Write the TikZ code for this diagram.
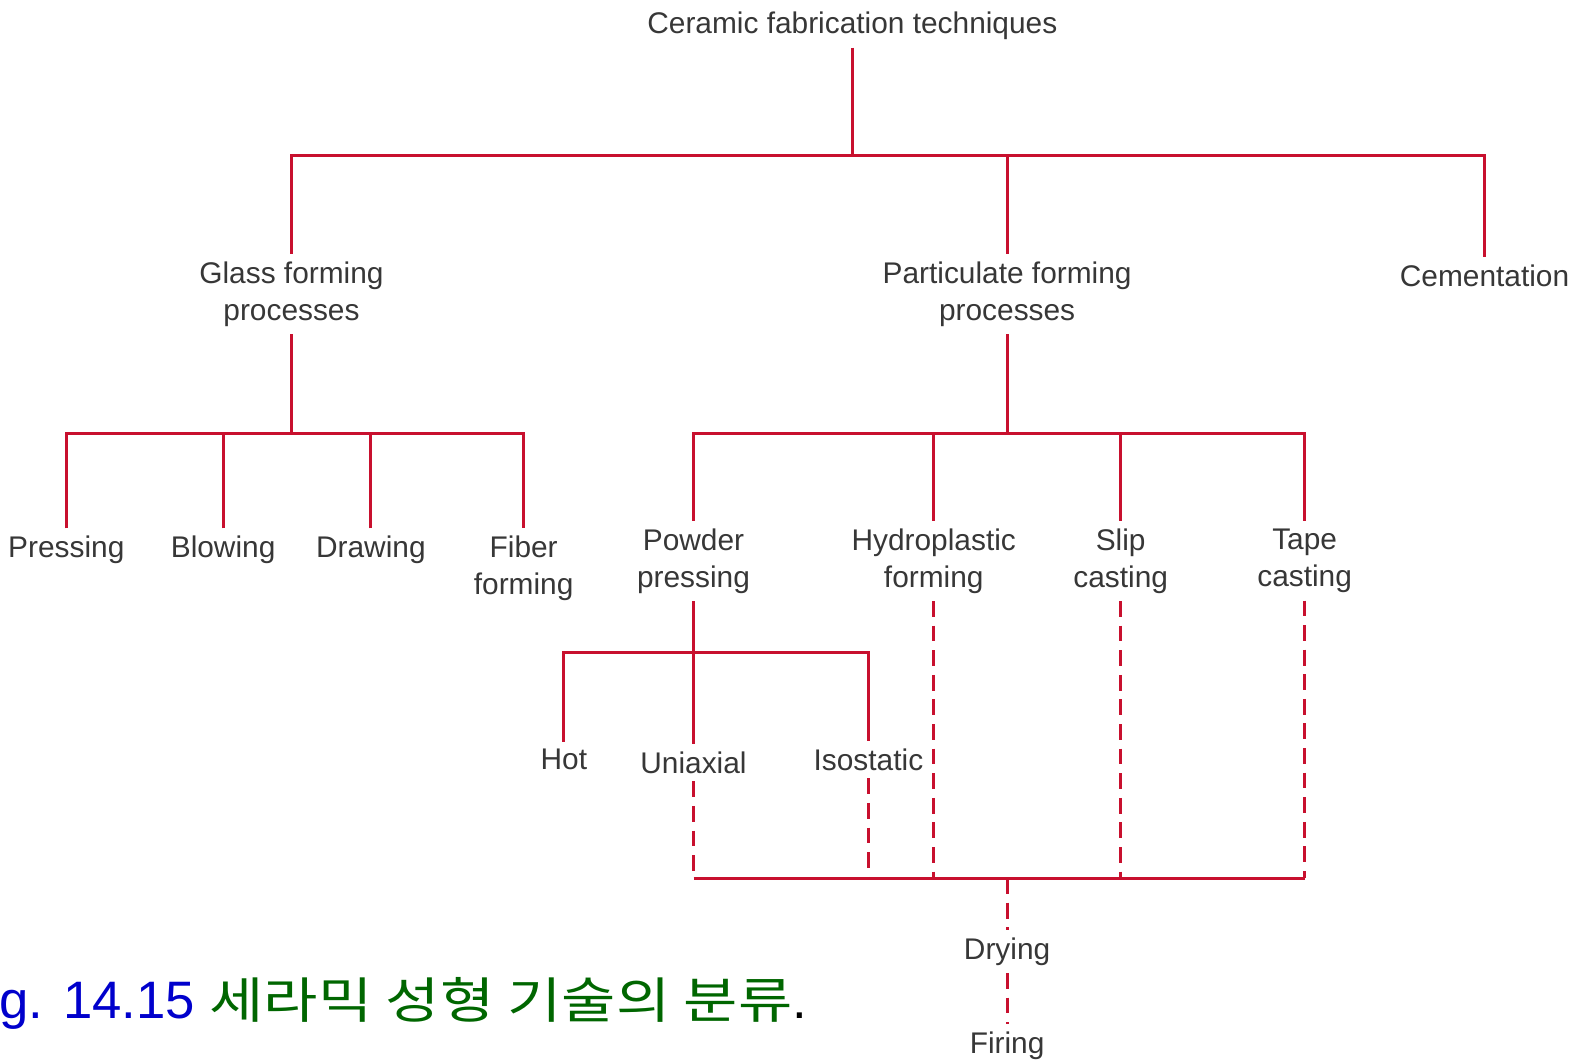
\documentclass[tikz,border=0pt]{standalone}
\usepackage{fontspec}
\setmainfont{Liberation Sans}
\newfontfamily\kofont[FakeStretch=1.2]{Noto Sans CJK KR}
\definecolor{linie}{RGB}{200,16,46}
\definecolor{schrift}{RGB}{55,55,55}
\definecolor{figblau}{RGB}{0,0,204}
\definecolor{figgruen}{RGB}{0,102,0}
\tikzset{
	link/.style={draw=linie, line width=0.9pt},
	strich/.style={link, dash pattern=on 4.5pt off 2.5pt},
	txt/.style={text=schrift, font=\fontsize{8.5}{10.5}\selectfont, align=center, inner sep=2pt}
}
\begin{document}
\begin{tikzpicture}[x=0.010051cm, y=-0.010047cm]
	\useasboundingbox (0,0) rectangle (1568,1056);
	% Busse
	\coordinate (topbus) at (0,155);
	\coordinate (gbus) at (0,432);
	\coordinate (pbus) at (0,432);
	\coordinate (ppbus) at (0,650);
	\coordinate (lbus) at (0,875);

	% Oberste Ebene
	\node[txt] (top) at (848,26) {Ceramic fabrication techniques};
	\node[txt] (glass) at (290,293) {Glass forming\\processes};
	\node[txt] (partic) at (1002,293) {Particulate forming\\processes};
	\node[txt] (cement) at (1477,275) {Cementation};
	\draw[link] (top) -- (top |- topbus);
	\draw[link] (glass.north) |- (cement.north |- topbus) -- (cement.north);
	\draw[link] (partic.north) -- (partic.north |- topbus);

	% Glass forming
	\node[txt] (pressing) at (66,548) {Pressing};
	\node[txt] (blowing) at (222,548) {Blowing};
	\node[txt] (drawing) at (369,548) {Drawing};
	\node[txt] (fiber) at (521,566) {Fiber\\forming};
	\draw[link] (glass.south) -- (glass.south |- gbus);
	\draw[link] (pressing.north) |- (fiber.north |- gbus) -- (fiber.north);
	\draw[link] (blowing.north) -- (blowing.north |- gbus);
	\draw[link] (drawing.north) -- (drawing.north |- gbus);

	% Particulate forming
	\node[txt] (powder) at (690,559) {Powder\\pressing};
	\node[txt] (hydro) at (929,559) {Hydroplastic\\forming};
	\node[txt] (slip) at (1115,559) {Slip\\casting};
	\node[txt] (tape) at (1298,559) {Tape\\casting};
	\draw[link] (partic.south) -- (partic.south |- pbus);
	\draw[link] (powder.north) |- (tape.north |- pbus) -- (tape.north);
	\draw[link] (hydro.north) -- (hydro.north |- pbus);
	\draw[link] (slip.north) -- (slip.north |- pbus);

	% Powder pressing
	\node[txt] (hot) at (561,757) {Hot};
	\node[txt] (uni) at (690,760) {Uniaxial};
	\node[txt] (iso) at (864,757) {Isostatic};
	\draw[link] (powder.south) -- (uni.north);
	\draw[link] (hot.north) |- (iso.north |- ppbus) -- (iso.north);

	% Trocknen und Brennen
	\node[txt] (drying) at (1002,948) {Drying};
	\node[txt] (firing) at (1002,1042) {Firing};
	\draw[strich] (uni.south) -- (uni.south |- lbus);
	\draw[strich] (iso.south) -- (iso.south |- lbus);
	\draw[strich] (hydro.south) -- (hydro.south |- lbus);
	\draw[strich] (slip.south) -- (slip.south |- lbus);
	\draw[strich] (tape.south) -- (tape.south |- lbus);
	\draw[link] (uni.south |- lbus) -- (tape.south |- lbus);
	\draw[strich] (drying.north |- lbus) -- (drying.north);
	\draw[strich] (drying.south) -- (firing.north);

	% Bildunterschrift
	\node[anchor=base west, inner sep=0pt, font=\fontsize{15}{18}\selectfont] (caption) at (-1,1015)
		{\textcolor{figblau}{g. 14.15} {\kofont\fontsize{14}{17}\selectfont\textcolor{figgruen}{세라믹 성형 기술의 분류}}.};
\end{tikzpicture}
\end{document}
